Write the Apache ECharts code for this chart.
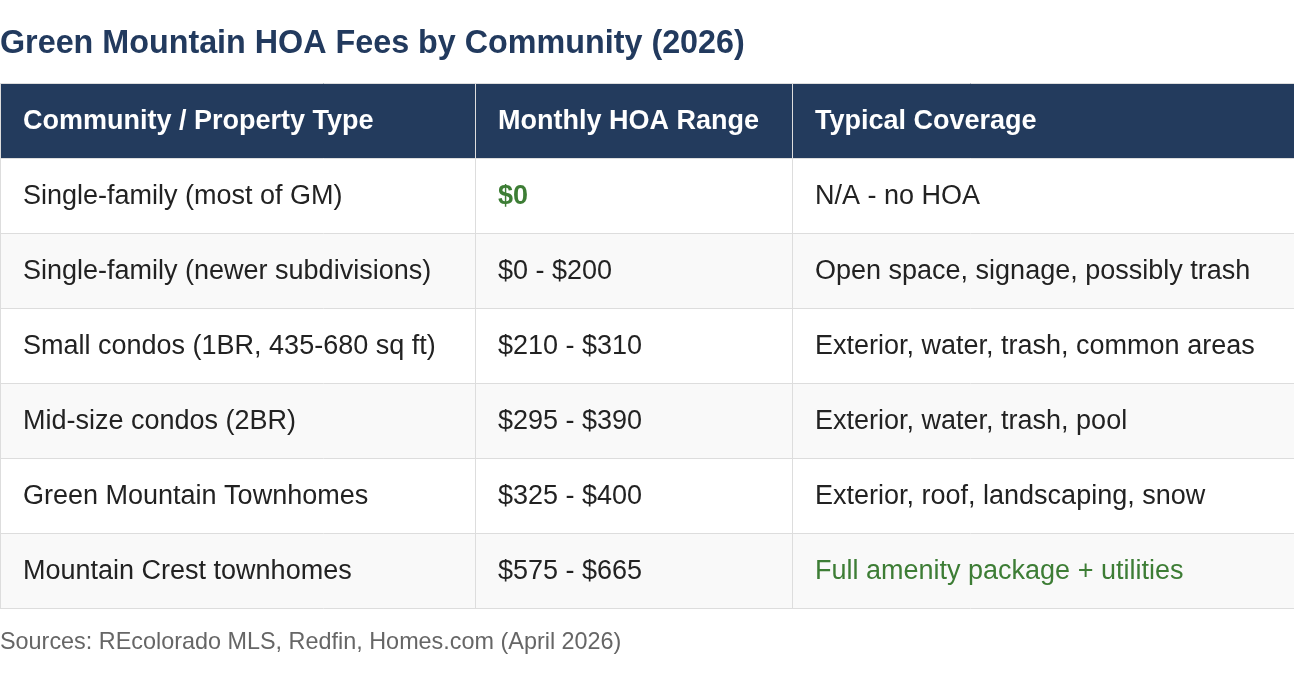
<!DOCTYPE html>
<html>
<head>
<meta charset="utf-8">
<script src="https://cdn.jsdelivr.net/npm/echarts@6/dist/echarts.min.js"></script>
<style>
html,body{margin:0;padding:0;background:#fff;}
#chart{width:1294px;height:682px;}
</style>
</head>
<body>
<div id="chart"></div>
<script>
// ---- Data ----
const titleText = 'Green Mountain HOA Fees by Community (2026)';
const sourceText = 'Sources: REcolorado MLS, Redfin, Homes.com (April 2026)';
const columns = ['Community / Property Type', 'Monthly HOA Range', 'Typical Coverage'];
const communities = [
  'Single-family (most of GM)',
  'Single-family (newer subdivisions)',
  'Small condos (1BR, 435-680 sq ft)',
  'Mid-size condos (2BR)',
  'Green Mountain Townhomes',
  'Mountain Crest townhomes'
];
const feeRanges = ['$0', '$0 - $200', '$210 - $310', '$295 - $390', '$325 - $400', '$575 - $665'];
const coverage = [
  'N/A - no HOA',
  'Open space, signage, possibly trash',
  'Exterior, water, trash, common areas',
  'Exterior, water, trash, pool',
  'Exterior, roof, landscaping, snow',
  'Full amenity package + utilities'
];

// ---- Styling / layout config ----
const FONT = '"Liberation Sans", Arial, Helvetica, sans-serif';
const colEdgeFrac = [0, 475 / 1294, 792 / 1294];   // column left edges as fraction of width
const cellPadX = 23;
const textShiftY = 1;
const headerFill = '#233b5d';
const altFill = '#f9f9f9';
const borderColor = '#dddddd';
const textColor = '#222222';
const greenColor = '#3d7d35';
// highlighted cells: [bodyRow, col, bold]
const highlights = [[0, 1, true], [5, 2, false]];

const rowLabels = ['header'].concat(communities);
const tableRows = [columns].concat(communities.map((c, i) => [c, feeRanges[i], coverage[i]]));

function cellStyle(row, col) {
  if (row === 0) return { fill: '#ffffff', fontWeight: 'bold' };
  for (const h of highlights) {
    if (h[0] === row - 1 && h[1] === col) return { fill: greenColor, fontWeight: h[2] ? 'bold' : 'normal' };
  }
  return { fill: textColor, fontWeight: 'normal' };
}

function renderItem(params, api) {
  const r = api.value(1);
  const cs = params.coordSys;
  const center = api.coord([0, r]);
  const band = api.size([0, 1])[1];
  const y0 = Math.round(center[1] - band / 2);
  const y1 = Math.round(center[1] + band / 2);
  const cy = (y0 + y1) / 2 + textShiftY;
  const children = [];
  const fill = r === 0 ? headerFill : (r % 2 === 0 ? altFill : '#ffffff');
  children.push({ type: 'rect', shape: { x: cs.x, y: y0, width: cs.width, height: y1 - y0 }, style: { fill: fill } });
  children.push({ type: 'line', shape: { x1: cs.x, y1: y0 + 0.5, x2: cs.x + cs.width, y2: y0 + 0.5 }, style: { stroke: borderColor, lineWidth: 1 } });
  if (r === tableRows.length - 1) {
    children.push({ type: 'line', shape: { x1: cs.x, y1: y1 + 0.5, x2: cs.x + cs.width, y2: y1 + 0.5 }, style: { stroke: borderColor, lineWidth: 1 } });
  }
  const cells = tableRows[r];
  colEdgeFrac.forEach((f, ci) => {
    const xl = Math.round(cs.x + f * cs.width);
    children.push({ type: 'line', shape: { x1: xl + 0.5, y1: y0, x2: xl + 0.5, y2: y1 + 1 }, style: { stroke: borderColor, lineWidth: 1 } });
    const st = cellStyle(r, ci);
    children.push({
      type: 'text',
      style: {
        x: xl + cellPadX, y: cy, text: cells[ci],
        fill: st.fill, fontWeight: st.fontWeight, fontSize: 27, fontFamily: FONT,
        verticalAlign: 'middle', align: 'left'
      }
    });
  });
  return { type: 'group', children: children };
}

const chart = echarts.init(document.getElementById('chart'), null, { renderer: 'canvas' });
chart.setOption({
  animation: false,
  backgroundColor: '#ffffff',
  title: [
    { text: titleText, left: 0, top: 28, padding: 0,
      textStyle: { fontSize: 32.3, fontWeight: 'bold', color: '#223a5e', fontFamily: FONT } },
    { text: sourceText, left: 0, top: 631, padding: 0,
      textStyle: { fontSize: 23.4, fontWeight: 'normal', color: '#666666', fontFamily: FONT } }
  ],
  grid: { left: 0, right: 0, top: 83, height: 525 },
  xAxis: { type: 'value', min: 0, max: 1, show: false },
  yAxis: { type: 'category', data: rowLabels, inverse: true, show: false },
  series: [{
    type: 'custom',
    renderItem: renderItem,
    data: tableRows.map((row, i) => [0, i]),
    clip: false
  }]
});
</script>
</body>
</html>
